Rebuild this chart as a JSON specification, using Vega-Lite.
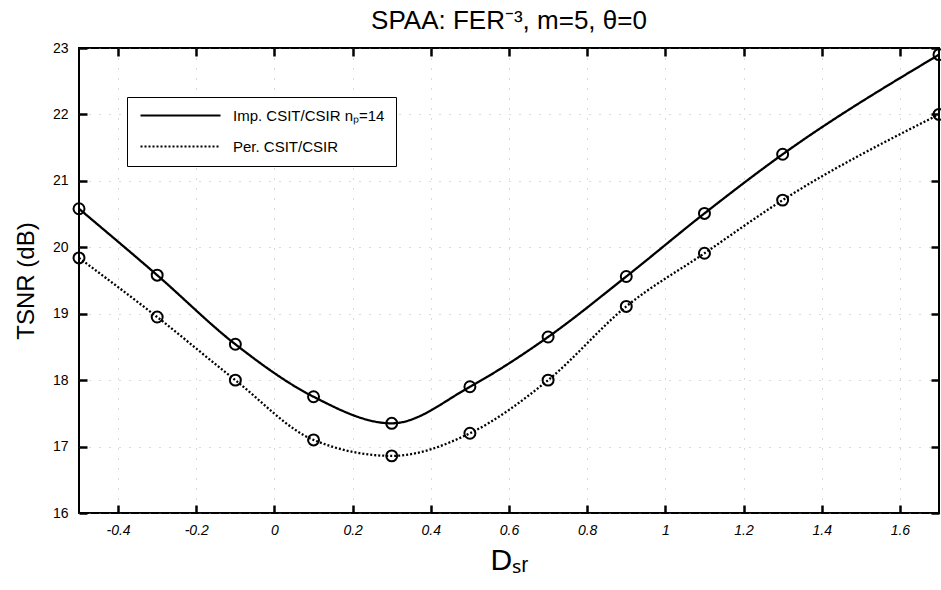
{
  "$schema": "https://vega.github.io/schema/vega-lite/v6.json",
  "width": 860,
  "height": 465,
  "autosize": {"type": "none"},
  "padding": {"left": 79, "top": 48, "right": 2, "bottom": 77},
  "background": "white",
  "title": {"text": "SPAA: FER⁻³, m=5, θ=0", "font": "Liberation Sans", "fontSize": 26, "fontWeight": "normal", "color": "black", "offset": 7, "anchor": "middle"},
  "config": {"view": {"stroke": "black", "strokeWidth": 2}},
  "data": {
    "values": [
      {"d": -0.5, "v": 20.58, "s": "Imp. CSIT/CSIR nₚ=14"},
      {"d": -0.3, "v": 19.58, "s": "Imp. CSIT/CSIR nₚ=14"},
      {"d": -0.1, "v": 18.54, "s": "Imp. CSIT/CSIR nₚ=14"},
      {"d": 0.1, "v": 17.75, "s": "Imp. CSIT/CSIR nₚ=14"},
      {"d": 0.3, "v": 17.35, "s": "Imp. CSIT/CSIR nₚ=14"},
      {"d": 0.5, "v": 17.9, "s": "Imp. CSIT/CSIR nₚ=14"},
      {"d": 0.7, "v": 18.65, "s": "Imp. CSIT/CSIR nₚ=14"},
      {"d": 0.9, "v": 19.56, "s": "Imp. CSIT/CSIR nₚ=14"},
      {"d": 1.1, "v": 20.51, "s": "Imp. CSIT/CSIR nₚ=14"},
      {"d": 1.3, "v": 21.4, "s": "Imp. CSIT/CSIR nₚ=14"},
      {"d": 1.7, "v": 22.9, "s": "Imp. CSIT/CSIR nₚ=14"},
      {"d": -0.5, "v": 19.84, "s": "Per. CSIT/CSIR"},
      {"d": -0.3, "v": 18.95, "s": "Per. CSIT/CSIR"},
      {"d": -0.1, "v": 18.0, "s": "Per. CSIT/CSIR"},
      {"d": 0.1, "v": 17.1, "s": "Per. CSIT/CSIR"},
      {"d": 0.3, "v": 16.86, "s": "Per. CSIT/CSIR"},
      {"d": 0.5, "v": 17.2, "s": "Per. CSIT/CSIR"},
      {"d": 0.7, "v": 18.0, "s": "Per. CSIT/CSIR"},
      {"d": 0.9, "v": 19.11, "s": "Per. CSIT/CSIR"},
      {"d": 1.1, "v": 19.91, "s": "Per. CSIT/CSIR"},
      {"d": 1.3, "v": 20.71, "s": "Per. CSIT/CSIR"},
      {"d": 1.7, "v": 22.0, "s": "Per. CSIT/CSIR"}
    ]
  },
  "layer": [
    {
      "mark": {"type": "line", "interpolate": "monotone", "strokeWidth": 2.3, "color": "black"},
      "encoding": {
        "x": {"field": "d", "type": "quantitative", "scale": {"domain": [-0.5, 1.7], "nice": false, "zero": false},
          "axis": {"values": [-0.4, -0.2, 0, 0.2, 0.4, 0.6, 0.8, 1, 1.2, 1.4, 1.6], "domain": false, "ticks": true, "offset": -8, "tickSize": 8, "tickWidth": 2.5, "tickColor": "#000000", "tickOpacity": 1, "labelExpr": "'' + datum.value", "labelFont": "Liberation Sans", "labelFontSize": 14, "labelColor": "black", "labelFontStyle": "italic", "labelPadding": 10, "title": "Dₛᵣ", "titleFont": "Liberation Sans", "titleFontWeight": "normal", "titleColor": "black", "titleFontSize": 30, "titlePadding": 8, "grid": true, "gridColor": "#999999", "gridDash": [1, 9], "gridWidth": 1, "gridOpacity": 0.7}},
        "y": {"field": "v", "type": "quantitative", "scale": {"domain": [16, 23], "nice": false, "zero": false},
          "axis": {"values": [16, 17, 18, 19, 20, 21, 22, 23], "domain": false, "ticks": true, "offset": -8, "tickSize": 8, "tickWidth": 2.5, "tickColor": "#000000", "tickOpacity": 1, "labelFont": "Liberation Sans", "labelFontSize": 14, "labelColor": "black", "labelPadding": 11, "title": "TSNR (dB)", "titleFont": "Liberation Sans", "titleFontWeight": "normal", "titleColor": "black", "titleFontSize": 24, "titlePadding": 14, "grid": true, "gridColor": "#999999", "gridDash": [1, 9], "gridWidth": 1, "gridOpacity": 0.7}},
        "strokeDash": {"field": "s", "type": "nominal",
          "scale": {"domain": ["Imp. CSIT/CSIR nₚ=14", "Per. CSIT/CSIR"], "range": [[1, 0], [2, 2]]},
          "legend": {"title": null, "orient": "none", "legendX": 48, "legendY": 49, "symbolType": "M-1,0H15", "symbolSize": 100, "symbolStrokeWidth": 2, "symbolStrokeColor": "black", "labelOffset": 80, "labelFont": "Liberation Sans", "labelFontSize": 15, "labelColor": "black", "strokeColor": "black", "fillColor": "white", "padding": 11, "rowPadding": 15}}
      }
    },
    {
      "mark": {"type": "point", "shape": "circle", "filled": false, "size": 120, "strokeWidth": 2, "color": "black", "opacity": 1},
      "encoding": {
        "x": {"field": "d", "type": "quantitative", "axis": {"orient": "top", "values": [-0.4, -0.2, 0, 0.2, 0.4, 0.6, 0.8, 1, 1.2, 1.4, 1.6], "domain": false, "ticks": true, "offset": -8, "tickSize": 8, "tickWidth": 2.5, "tickColor": "#000000", "tickOpacity": 1, "labels": false, "title": null, "grid": false}},
        "y": {"field": "v", "type": "quantitative", "axis": {"orient": "right", "values": [16, 17, 18, 19, 20, 21, 22, 23], "domain": false, "ticks": true, "offset": -8, "tickSize": 8, "tickWidth": 2.5, "tickColor": "#000000", "tickOpacity": 1, "labels": false, "title": null, "grid": false}},
        "detail": {"field": "s", "type": "nominal"}
      }
    }
  ],
  "resolve": {"axis": {"x": "independent", "y": "independent"}}
}
